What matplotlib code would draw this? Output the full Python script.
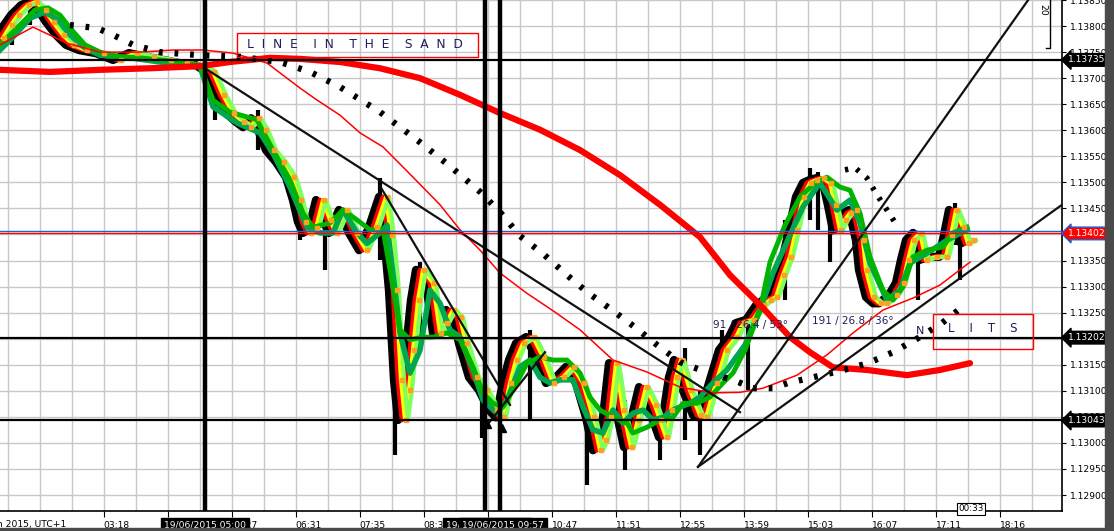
import matplotlib.pyplot as plt
import matplotlib.transforms as mtransforms
from matplotlib.patches import Rectangle
import numpy as np

# ---- data (x = bar index, y = price) ----
fast_x = [0, 8, 15, 25, 33, 42, 50, 60, 70, 83, 100, 117, 133, 150, 167, 183, 200, 210, 220, 230,
          240, 247, 255, 262, 270, 280, 290, 297, 302, 307, 313, 320, 327, 333, 343, 353, 363, 373, 383, 388,
          393, 398, 402, 406, 410, 415, 420, 430, 437, 443, 450, 457, 463, 473, 483, 493, 500, 507, 513, 520,
          530, 540, 550, 560, 570, 580, 590, 597, 602, 607, 613, 620, 628, 635, 643, 652, 657, 663, 668, 673,
          678, 687, 697, 703, 713, 723, 733, 740, 750, 760, 767, 773, 780, 787, 793, 800, 807, 813, 820, 827,
          832, 837, 842, 847, 853, 860, 863, 870, 877, 883, 893, 900, 905, 910, 917, 923, 933, 943, 948, 953,
          960, 965, 970]
fast_p = [1.13777, 1.13802, 1.13821, 1.13840, 1.13846, 1.13831, 1.13808, 1.13783, 1.13764, 1.13754,
          1.13748, 1.13735, 1.13748, 1.13741, 1.13735, 1.13729, 1.13725, 1.13712, 1.13668, 1.13633,
          1.13616, 1.13606, 1.13623, 1.13601, 1.13562, 1.13539, 1.13510, 1.13466, 1.13424, 1.13403,
          1.13412, 1.13466, 1.13428, 1.13403, 1.13447, 1.13403, 1.13370, 1.13414, 1.13472, 1.13399,
          1.13293, 1.13121, 1.13044, 1.13102, 1.13178, 1.13274, 1.13332, 1.13307, 1.13211, 1.13230,
          1.13255, 1.13241, 1.13191, 1.13126, 1.13101, 1.13063, 1.13049, 1.13115, 1.13159, 1.13191,
          1.13203, 1.13165, 1.13115, 1.13126, 1.13146, 1.13115, 1.13049, 1.12986, 1.13005, 1.13049,
          1.13153, 1.13063, 1.12992, 1.13044, 1.13107, 1.13072, 1.13044, 1.13011, 1.13063, 1.13126,
          1.13159, 1.13101, 1.13053, 1.13049, 1.13115, 1.13178, 1.13203, 1.13230, 1.13236, 1.13264,
          1.13274, 1.13280, 1.13322, 1.13357, 1.13408, 1.13472, 1.13499, 1.13504, 1.13508, 1.13499,
          1.13456, 1.13408, 1.13428, 1.13441, 1.13447, 1.13389, 1.13332, 1.13280, 1.13268, 1.13268,
          1.13284, 1.13307, 1.13351, 1.13389, 1.13403, 1.13351, 1.13357, 1.13357, 1.13399, 1.13447,
          1.13414, 1.13383, 1.13389]

green_x = [0, 20, 35, 48, 60, 72, 85, 100, 120, 140, 160, 180, 200, 213, 230, 257, 273, 290, 303, 313,
           330, 343, 357, 370, 383, 390, 400, 410, 423, 433, 447, 460, 473, 483, 493, 503, 513, 527, 540, 553,
           567, 580, 590, 600, 613, 627, 633, 647, 660, 673, 683, 697, 710, 723, 733, 745, 760, 770, 785, 800,
           815, 827, 840, 850, 860, 870, 883, 893, 903, 913, 927, 943, 953, 967]
green_p = [1.13764, 1.13802, 1.13831, 1.13835, 1.13821, 1.13792, 1.13764, 1.13750, 1.13741, 1.13739,
           1.13735, 1.13731, 1.13725, 1.13658, 1.13635, 1.13620, 1.13562, 1.13505, 1.13441, 1.13414,
           1.13422, 1.13447, 1.13428, 1.13409, 1.13409, 1.13332, 1.13217, 1.13198, 1.13203, 1.13203,
           1.13211, 1.13198, 1.13146, 1.13096, 1.13076, 1.13069, 1.13101, 1.13153, 1.13165, 1.13159,
           1.13159, 1.13134, 1.13088, 1.13063, 1.13049, 1.13038, 1.13019, 1.13030, 1.13044, 1.13049,
           1.13076, 1.13076, 1.13088, 1.13115, 1.13134, 1.13178, 1.13255, 1.13347, 1.13418, 1.13472,
           1.13499, 1.13510, 1.13491, 1.13485, 1.13441, 1.13357, 1.13293, 1.13274, 1.13299, 1.13357,
           1.13370, 1.13376, 1.13403, 1.13414]

sea_x = [0, 15, 30, 45, 58, 70, 85, 100, 130, 160, 200, 213, 237, 260, 273, 290, 307, 320, 333, 343,
         357, 367, 380, 387, 395, 400, 410, 420, 430, 440, 450, 460, 473, 483, 497, 507, 520, 530, 540, 550,
         560, 573, 583, 593, 603, 613, 623, 633, 643, 653, 663, 673, 680, 690, 700, 713, 727, 745, 760, 773,
         790, 803, 820, 837, 850, 860, 870, 887, 900, 910, 927, 947, 967]
sea_p = [1.13754, 1.13783, 1.13815, 1.13827, 1.13812, 1.13783, 1.13758, 1.13744, 1.13739, 1.13731,
         1.13723, 1.13645, 1.13614, 1.13595, 1.13556, 1.13491, 1.13414, 1.13403, 1.13403, 1.13447,
         1.13403, 1.13383, 1.13403, 1.13418, 1.13293, 1.13211, 1.13134, 1.13178, 1.13293, 1.13268,
         1.13217, 1.13203, 1.13140, 1.13082, 1.13057, 1.13082, 1.13146, 1.13159, 1.13126, 1.13115,
         1.13121, 1.13121, 1.13069, 1.13025, 1.13019, 1.13063, 1.13038, 1.13057, 1.13063, 1.13044,
         1.13049, 1.13063, 1.13069, 1.13076, 1.13088, 1.13115, 1.13140, 1.13188, 1.13255, 1.13326,
         1.13399, 1.13453, 1.13499, 1.13447, 1.13466, 1.13422, 1.13345, 1.13274, 1.13293, 1.13345,
         1.13364, 1.13389, 1.13409]

thin_red_x = [0, 33, 67, 100, 140, 173, 203, 233, 267, 300, 317, 340, 360, 383, 413, 440, 460, 480, 500, 527,
              555, 580, 613, 647, 680, 713, 740, 763, 797, 827, 853, 883, 913, 940, 970]
thin_red_p = [1.13764, 1.13798, 1.13767, 1.13750, 1.13750, 1.13754, 1.13754, 1.13748, 1.13729, 1.13681,
              1.13658, 1.13629, 1.13595, 1.13568, 1.13510, 1.13457, 1.13409, 1.13370, 1.13326, 1.13287,
              1.13251, 1.13217, 1.13159, 1.13136, 1.13107, 1.13096, 1.13097, 1.13105, 1.13130, 1.13169,
              1.13211, 1.13255, 1.13278, 1.13303, 1.13347]

thick_red_x = [0, 50, 100, 150, 200, 230, 270, 300, 340, 380, 420, 460, 500, 540, 580, 620, 660, 700,
               730, 760, 790, 810, 833, 867, 907, 940, 970]
thick_red_p = [1.13716, 1.13712, 1.13716, 1.13719, 1.13723, 1.13731, 1.13739, 1.13737, 1.13731, 1.13719,
               1.13700, 1.13668, 1.13633, 1.13601, 1.13562, 1.13514, 1.13457, 1.13395, 1.13322, 1.13265,
               1.13203, 1.13174, 1.13145, 1.13140, 1.13130, 1.13140, 1.13153]

dot_x = [70, 97, 113, 133, 160, 200, 240, 280, 310, 340, 380, 420, 450, 480, 500, 520, 543, 567, 588, 612,
         635, 657, 680, 692, 715, 733, 753, 773, 788, 813, 840, 868, 893, 918, 942, 963]
dot_p = [1.13802, 1.13796, 1.13783, 1.13764, 1.13750, 1.13744, 1.13741, 1.13731, 1.13712, 1.13683,
         1.13635, 1.13577, 1.13531, 1.13482, 1.13443, 1.13397, 1.13363, 1.13322, 1.13288, 1.13255,
         1.13222, 1.13188, 1.13155, 1.13146, 1.13130, 1.13121, 1.13105, 1.13105, 1.13115, 1.13126,
         1.13138, 1.13153, 1.13174, 1.13201, 1.13230, 1.13262]

sar_x = [845, 855, 867, 877, 887, 898]
sar_p = [1.13524, 1.13528, 1.13508, 1.13476, 1.13447, 1.13414]

spike_x = [12, 30, 215, 258, 300, 325, 380, 395, 420, 482, 530, 587, 625, 660, 685, 700, 722, 748,
           785, 810, 818, 830, 865, 918, 955, 960]
spike_hi = [1.13821, 1.13850, 1.13696, 1.13639, 1.13485, 1.13457, 1.13508, 1.13293, 1.13347, 1.13121,
            1.13217, 1.13102, 1.13082, 1.13063, 1.13182, 1.13102, 1.13217, 1.13236, 1.13428, 1.13528,
            1.13520, 1.13466, 1.13370, 1.13370, 1.13460, 1.13389]
spike_lo = [1.13764, 1.13802, 1.13620, 1.13562, 1.13389, 1.13332, 1.13351, 1.12977, 1.13198, 1.13009,
            1.13044, 1.12919, 1.12948, 1.12967, 1.13006, 1.12977, 1.13121, 1.13102, 1.13274, 1.13428,
            1.13409, 1.13347, 1.13274, 1.13274, 1.13380, 1.13313]

# trend lines: (x0, p0, x1, p1)
trend_lines = [
    (205, 1.13719, 740, 1.13059),
    (380, 1.13493, 510, 1.13073),
    (487, 1.13034, 545, 1.13174),
    (698, 1.12954, 1030, 1.13855),
    (698, 1.12954, 1062, 1.13457),
]

levels = [1.13735, 1.13202, 1.13043]
bid = 1.13402
vlines_x = [205, 485, 500]

tick_pos = [103.6 + 64 * k for k in range(15)]
tick_lab = ['03:18', '04:22', '05:27', '06:31', '07:35', '08:39', '09:43', '10:47',
            '11:51', '12:55', '13:59', '15:03', '16:07', '17:11', '18:16']

# ---- figure ----
W, H = 1114, 531
fig = plt.figure(figsize=(W / 100, H / 100), dpi=100)
ax = fig.add_axes([0, 20 / H, 1062 / W, 511 / H])
ax.set_xlim(0, 1062)
ax.set_ylim(1.128693, 1.138500)

fig.patches.append(Rectangle((1105 / W, 0), 9 / W, 1, transform=fig.transFigure, color='#4a4a4a'))
fig.patches.append(Rectangle((0, 0), 1, 3 / H, transform=fig.transFigure, color='#4a4a4a'))

for s in ['left', 'top']:
    ax.spines[s].set_visible(False)
for s in ['right', 'bottom']:
    ax.spines[s].set_color('black')
    ax.spines[s].set_linewidth(1.2)

yt = np.arange(1.12900, 1.13851, 0.0005)
ax.yaxis.tick_right()
ax.set_yticks(yt)
ax.set_yticklabels([f'{v:.5f}' for v in yt])
ax.tick_params(axis='y', direction='out', length=3, labelsize=6.6, pad=3)
ax.set_xticks(tick_pos)
ax.set_xticklabels(tick_lab)
for t in ax.get_xticklabels():
    t.set_ha('left')
ax.tick_params(axis='x', direction='out', length=4, labelsize=6.6, pad=3)
ax.set_xticks([7.6 + 32 * k for k in range(33)], minor=True)
ax.tick_params(axis='x', which='minor', length=0)
ax.grid(which='both', color='#c8c8c8', lw=1, zorder=0)
ax.set_axisbelow(True)

# candles shadows and the moving-average ribbon
ax.vlines(spike_x, spike_lo, spike_hi, color='black', lw=3, zorder=2.8)
ax.plot([x - 4 for x in fast_x], fast_p, color='black', lw=6, zorder=3)
ax.plot(fast_x, fast_p, color='#ff0000', lw=3.5, zorder=4)
ax.plot([x + 3 for x in fast_x], fast_p, color='#ffff00', lw=3, zorder=5)
ax.plot([x + 6 for x in fast_x], fast_p, color='#80ff60', lw=3, zorder=6)
ax.plot([x + 4 for x in fast_x], fast_p, ls='none', marker='s', ms=3.5, color='#ffa020', zorder=7.5)
ax.plot(sea_x, sea_p, color='#00a650', lw=4, zorder=7)
ax.plot(green_x, green_p, color='#00b400', lw=3.5, zorder=7.2)
ax.plot(thin_red_x, thin_red_p, color='#ff0000', lw=1.1, zorder=8)
ax.plot(thick_red_x, thick_red_p, color='#ff0000', lw=4.5, zorder=8.5, solid_capstyle='round')
ax.plot(dot_x, dot_p, color='black', lw=4.5, ls=(0, (0.6, 1.9)), zorder=9)
ax.plot(sar_x, sar_p, color='black', lw=4, ls=(0, (0.6, 1.6)), zorder=9)

for x0, p0, x1, p1 in trend_lines:
    ax.plot([x0, x1], [p0, p1], color='#111111', lw=1.6, zorder=10)

for lv in levels:
    ax.axhline(lv, color='black', lw=1.6, zorder=10)
ax.axhline(bid + 0.00004, color='#1f5fd0', lw=1, zorder=10)
ax.axhline(bid, color='#ff0000', lw=1, zorder=10)
for vx in vlines_x:
    ax.axvline(vx, color='black', lw=3.2, zorder=11)

ax.plot([502, 487], [1.13029, 1.13036], ls='none', marker='^', ms=6, color='black', zorder=11)

# text objects
navy = '#1e1e5a'
ax.add_patch(Rectangle((237, 1.13741), 241, 0.00046, fill=False, ec='red', lw=1, zorder=12))
ax.text(355, 1.13764, 'L  I  N  E    I  N    T  H  E    S  A  N  D', ha='center', va='center',
        fontsize=8.8, color=navy, zorder=12)
ax.add_patch(Rectangle((933, 1.13180), 100, 0.00067, fill=False, ec='red', lw=1, zorder=12))
ax.text(983, 1.13220, 'L    I    T    S', ha='center', va='center', fontsize=8.5, color=navy, zorder=12)
ax.text(916, 1.13215, 'N', ha='left', va='center', fontsize=8, color=navy, zorder=12)
ax.text(713, 1.13226, '91 / 26.4 / 53°', ha='left', va='center', fontsize=7.5, color=navy, zorder=12)
ax.text(812, 1.13234, '191 / 26.8 / 36°', ha='left', va='center', fontsize=7.5, color=navy, zorder=12)

bt = mtransforms.blended_transform_factory(ax.transData, ax.transAxes)
ax.text(66, -0.027, '19 Jun 2015, UTC+1', transform=bt, ha='right', va='center', fontsize=6.6)
box = dict(boxstyle='square,pad=0.3', fc='black', ec='black')
ax.text(205, -0.027, '19/06/2015 05:00', transform=bt, ha='center', va='center', fontsize=6.6,
        color='white', bbox=box, zorder=20)
ax.text(487, -0.027, '19/06/2015 09:42', transform=bt, ha='center', va='center', fontsize=6.6,
        color='white', bbox=box, zorder=20)
ax.text(503, -0.027, '19/06/2015 09:57', transform=bt, ha='center', va='center', fontsize=6.6,
        color='white', bbox=box, zorder=21)
ax.text(971, 0.004, '00:33', transform=bt, ha='center', va='center', fontsize=6.3,
        bbox=dict(boxstyle='square,pad=0.2', fc='white', ec='black', lw=0.8), zorder=21)

at = ax.transAxes
ax.text(1043 / 1062, 1 - 10 / 511, '20', transform=at, rotation=270, ha='center', va='center', fontsize=6.6)
ax.plot([1050 / 1062, 1050 / 1062, 1046 / 1062], [1, 1 - 48 / 511, 1 - 48 / 511], transform=at,
        color='black', lw=1, clip_on=False)

rt = mtransforms.blended_transform_factory(ax.transAxes, ax.transData)
for lv in levels:
    ax.text(1.006, lv, f'{lv:.5f}', transform=rt, ha='left', va='center', fontsize=6.6, color='white',
            bbox=dict(boxstyle='larrow,pad=0.2', fc='black', ec='black'), zorder=30, clip_on=False)
ax.text(1.006, bid, f'{bid:.5f}', transform=rt, ha='left', va='center', fontsize=6.6, color='white',
        bbox=dict(boxstyle='larrow,pad=0.2', fc='#ff0000', ec='#1f5fd0', lw=1), zorder=30, clip_on=False)

fig.savefig('out.png', dpi=100)
